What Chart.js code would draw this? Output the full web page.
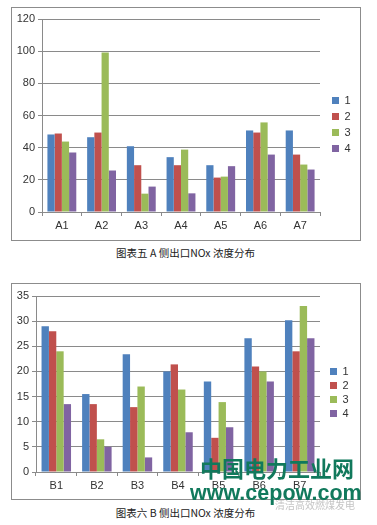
<!DOCTYPE html>
<html>
<head>
<meta charset="utf-8">
<script src="https://cdn.jsdelivr.net/npm/chart.js@4/dist/chart.umd.min.js"></script>
<style>
  body { margin: 0; background: #fff; width: 377px; height: 525px; position: relative; overflow: hidden; }
  .box { position: absolute; border: 1px solid #8c8c8c; background: #fff; }
  .box canvas { display: block; }
  .cap { position: absolute; left: 0; width: 371px; text-align: center; font: 10.5px "Noto Sans CJK SC", sans-serif; color: #222; line-height: 14px; }
  .wm { position: absolute; color: #11795c; font-weight: bold; white-space: nowrap; }
</style>
</head>
<body>

<div class="box" style="left:11px;top:7px;width:348px;height:232px"><canvas id="chartA" width="348" height="232"></canvas></div>
<div class="cap" style="top:246px">图表五 A 侧出口NOx 浓度分布</div>

<div class="box" style="left:11px;top:283px;width:348px;height:215px"><canvas id="chartB" width="348" height="215"></canvas></div>
<div class="cap" style="top:506px">图表六 B 侧出口NOx 浓度分布</div>

<div class="wm" style="left:200px;top:456px;font:bold 22px 'Noto Sans CJK SC';line-height:22px">中国电力工业网</div>
<div class="wm" style="left:190px;top:481px;font:bold 21.5px 'Liberation Sans';line-height:24px">www.cepow.com</div>
<div class="wm" style="left:275px;top:499px;font:10px 'Noto Sans CJK SC';line-height:12px;color:#c4c4c4;font-weight:normal">清洁高效燃煤发电</div>

<script>
// chart A (A side outlet NOx)
const catsA = ['A1', 'A2', 'A3', 'A4', 'A5', 'A6', 'A7'];
const a1 = [48.2, 46.5, 40.9, 34.1, 29.1, 50.7, 50.7];
const a2 = [48.8, 49.4, 29.1, 29.1, 21.4, 49.4, 35.7];
const a3 = [43.8, 99.2, 11.4, 38.8, 22.0, 55.7, 29.5];
const a4 = [37.0, 25.8, 15.8, 11.6, 28.5, 35.7, 26.4];

// chart B (B side outlet NOx)
const catsB = ['B1', 'B2', 'B3', 'B4', 'B5', 'B6', 'B7'];
const b1 = [29.0, 15.5, 23.4, 20.0, 18.0, 26.6, 30.2];
const b2 = [28.0, 13.5, 12.9, 21.4, 6.8, 21.0, 24.0];
const b3 = [24.0, 6.5, 17.0, 16.4, 13.9, 20.0, 33.0];
const b4 = [13.5, 5.0, 2.9, 7.9, 8.9, 18.0, 26.6];

const seriesNames = ['1', '2', '3', '4'];
const colors = ['#4f81bd', '#c0504d', '#9bbb59', '#8064a2'];

// keeps the legend column at a fixed width and nudges it into place
const legendShift = {
  id: 'legendShift',
  afterInit(chart, args, opts) {
    const lg = chart.legend;
    const fit = lg.fit;
    lg.fit = function () {
      fit.call(this);
      this.width = opts.width;
    };
  },
  afterLayout(chart, args, opts) {
    chart.legend.left += opts.dx;
    chart.legend.right += opts.dx;
    chart.legend.top += opts.dy;
    chart.legend.bottom += opts.dy;
  }
};

function makeChart(id, cats, data, yMax, step, yWidth, xHeight, padTop, legPad) {
  const gray = '#8a8a8a';
  new Chart(document.getElementById(id), {
    type: 'bar',
    data: {
      labels: cats,
      datasets: data.map((d, i) => ({
        label: seriesNames[i],
        data: d,
        backgroundColor: colors[i],
        categoryPercentage: 0.727,
        barPercentage: 1
      }))
    },
    options: {
      responsive: false,
      animation: false,
      layout: { padding: { top: padTop, left: 0, right: 0, bottom: 0 } },
      plugins: {
        legend: {
          position: 'right',
          labels: {
            boxWidth: 7, boxHeight: 7, padding: legPad,
            color: '#333',
            font: { family: 'Liberation Sans', size: 11 }
          }
        },
        tooltip: { enabled: false },
        legendShift: { width: 40, dx: 7, dy: -5 }
      },
      scales: {
        x: {
          grid: { drawOnChartArea: false, drawTicks: true, tickLength: 4, color: gray },
          border: { color: gray },
          ticks: { color: '#333', padding: 3, font: { family: 'Liberation Sans', size: 11 } },
          afterFit: s => { s.height = xHeight; }
        },
        y: {
          min: 0, max: yMax,
          grid: { color: gray, tickLength: 4 },
          border: { color: gray },
          ticks: { stepSize: step, color: '#333', padding: 3, font: { family: 'Liberation Sans', size: 11 } },
          afterFit: s => { s.width = yWidth; }
        }
      }
    },
    plugins: [legendShift]
  });
}

makeChart('chartA', catsA, [a1, a2, a3, a4], 120, 20, 30, 28, 11, 5);
makeChart('chartB', catsB, [b1, b2, b3, b4], 35, 5, 24, 27, 12, 3);
</script>
</body>
</html>
